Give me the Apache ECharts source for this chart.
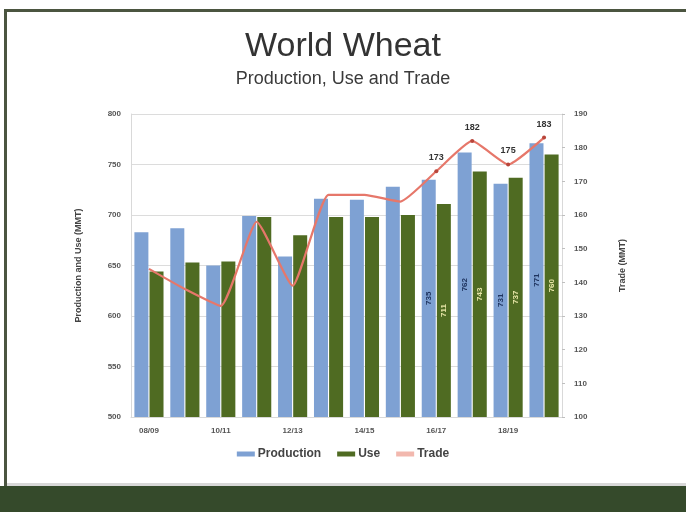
<!DOCTYPE html>
<html>
<head>
<meta charset="utf-8">
<script src="https://cdn.jsdelivr.net/npm/echarts@6/dist/echarts.min.js"></script>
<style>
  html, body { margin: 0; padding: 0; background: #ffffff; }
  #chart { width: 686px; height: 512px; }
</style>
</head>
<body>
<div id="chart"></div>
<script>
// Marketing years
const years = ['08/09', '09/10', '10/11', '11/12', '12/13', '13/14', '14/15', '15/16', '16/17', '17/18', '18/19', '19/20'];
// Million metric tons
const production = [683, 687, 650, 699, 659, 716, 715, 728, 735, 762, 731, 771];
const use = [644, 653, 654, 698, 680, 698, 698, 700, 711, 743, 737, 760];
const trade = [144, 138, 133, 158, 139, 166, 166, 164, 173, 182, 175, 183];
// Years from which values are printed on the marks
const labelFrom = 8;

const FONT = '"Liberation Sans", Arial, sans-serif';

function withLabels(values, labelOpts) {
  return values.map((v, i) => i >= labelFrom ? { value: v, label: labelOpts } : { value: v });
}

const chart = echarts.init(document.getElementById('chart'));

chart.setOption({
  backgroundColor: '#ffffff',
  animation: false,
  textStyle: { fontFamily: FONT },
  graphic: [
    { type: 'rect', shape: { x: 4, y: 9, width: 682, height: 3 }, style: { fill: '#4b5540' }, z: -1 },
    { type: 'rect', shape: { x: 4, y: 9, width: 3, height: 478 }, style: { fill: '#4b5540' }, z: -1 },
    { type: 'rect', shape: { x: 7, y: 483, width: 679, height: 3 }, style: { fill: '#d8d8d8' }, z: -1 },
    { type: 'rect', shape: { x: 0, y: 486, width: 686, height: 26 }, style: { fill: '#354a2b' }, z: -1 }
  ],
  title: {
    text: 'World Wheat',
    subtext: 'Production, Use and Trade',
    left: 'center',
    top: 25,
    itemGap: 6,
    textStyle: { fontFamily: FONT, fontSize: 34, fontWeight: 'normal', color: '#333333' },
    subtextStyle: { fontFamily: FONT, fontSize: 18, color: '#3a3a3a' }
  },
  legend: {
    bottom: 47,
    left: 'center',
    itemWidth: 18,
    itemHeight: 5,
    itemGap: 16,
    textStyle: { fontFamily: FONT, fontSize: 12, fontWeight: 'bold', color: '#444444', padding: [0, 0, 0, -2] },
    data: [
      { name: 'Production', icon: 'rect' },
      { name: 'Use', icon: 'rect' },
      { name: 'Trade', icon: 'rect', itemStyle: { color: '#f2b8ae' } }
    ]
  },
  grid: { left: 131, right: 124, top: 114, bottom: 95 },
  xAxis: {
    type: 'category',
    data: years,
    axisLine: { lineStyle: { color: '#d9d9d9' } },
    axisTick: { show: false },
    axisLabel: { interval: 1, fontSize: 8, fontWeight: 'bold', color: '#555555', margin: 10 }
  },
  yAxis: [
    {
      type: 'value',
      min: 500, max: 800, interval: 50,
      name: 'Production and Use (MMT)',
      nameLocation: 'middle',
      nameRotate: 90,
      nameGap: 48,
      nameTextStyle: { fontFamily: FONT, fontSize: 9, fontWeight: 'bold', color: '#444444' },
      axisLine: { show: true, lineStyle: { color: '#d9d9d9' } },
      axisTick: { show: false },
      axisLabel: { fontSize: 8, fontWeight: 'bold', color: '#555555', margin: 10 },
      splitLine: { lineStyle: { color: '#dcdcdc' } }
    },
    {
      type: 'value',
      min: 100, max: 190, interval: 10,
      name: 'Trade (MMT)',
      nameLocation: 'middle',
      nameRotate: 90,
      nameGap: 56,
      nameTextStyle: { fontFamily: FONT, fontSize: 9, fontWeight: 'bold', color: '#444444' },
      axisLine: { show: true, lineStyle: { color: '#d9d9d9' } },
      axisTick: { show: true, inside: false, length: 3, lineStyle: { color: '#bfbfbf' } },
      axisLabel: { fontSize: 8, fontWeight: 'bold', color: '#555555', margin: 12 },
      splitLine: { show: false }
    }
  ],
  series: [
    {
      name: 'Production',
      type: 'bar',
      barWidth: 14,
      barGap: '8%',
      itemStyle: { color: '#7ea1d3' },
      data: withLabels(production, {
        show: true, position: 'inside', rotate: 90,
        fontSize: 8, fontWeight: 'bold', color: '#1f3460'
      })
    },
    {
      name: 'Use',
      type: 'bar',
      barWidth: 14,
      itemStyle: { color: '#4f6b22' },
      data: withLabels(use, {
        show: true, position: 'inside', rotate: 90,
        fontSize: 8, fontWeight: 'bold', color: '#e8e6a8'
      })
    },
    {
      name: 'Trade',
      type: 'line',
      yAxisIndex: 1,
      smooth: 0.15,
      z: 5,
      symbol: 'circle',
      lineStyle: { color: '#e6776a', width: 2.2 },
      itemStyle: { color: '#b8453a' },
      data: trade.map((v, i) => i >= labelFrom
        ? { value: v, symbolSize: 4, label: { show: true, position: 'top', distance: 7, fontSize: 9, fontWeight: 'bold', color: '#333333' } }
        : { value: v, symbolSize: 0 })
    }
  ]
});
</script>
</body>
</html>
